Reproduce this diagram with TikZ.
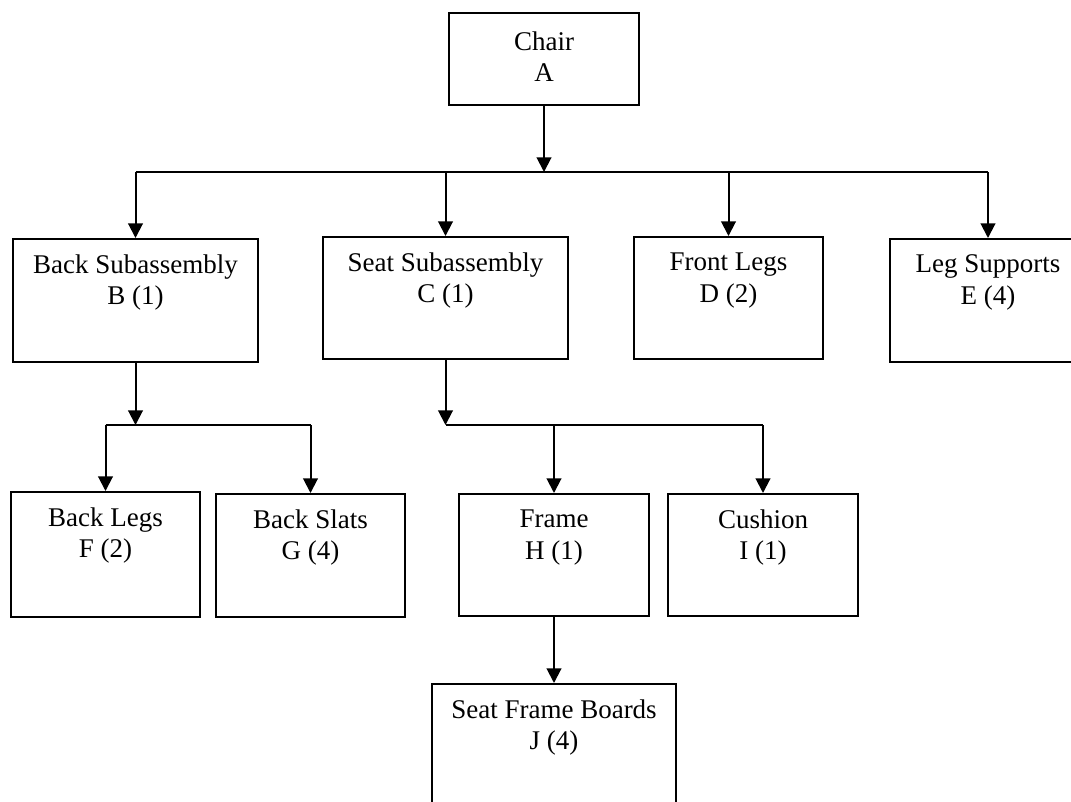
\documentclass[tikz,border=0pt]{standalone}
\usepackage{fontspec}
\setmainfont{Liberation Serif}
\usetikzlibrary{arrows.meta}
\begin{document}
\begin{tikzpicture}[x=0.75pt,y=-0.75pt,
  partbox/.style={draw, line width=1.5pt, anchor=north west, inner sep=0pt},
  partlabel/.style={align=center, inner sep=0pt,
    font=\fontsize{20.25}{23.5}\selectfont},
  link/.style={line width=1.5pt},
  feed/.style={line width=1.5pt, -{Triangle[width=11pt,length=11pt]}}]
\useasboundingbox (0,0) rectangle (1071,801);
\clip (0,0) rectangle (1071,801);

% part boxes (top-left corner, size)
\node[partbox, minimum width=142.5pt, minimum height=69pt]    (A) at (448,12)  {};
\node[partbox, minimum width=183.75pt, minimum height=92.25pt] (B) at (12,238)  {};
\node[partbox, minimum width=183.75pt, minimum height=91.5pt]  (C) at (322,236) {};
\node[partbox, minimum width=141.75pt, minimum height=91.5pt]  (D) at (633,236) {};
\node[partbox, minimum width=147pt,    minimum height=92.25pt] (E) at (889,238) {};
\node[partbox, minimum width=141.75pt, minimum height=93.75pt] (F) at (10,491)  {};
\node[partbox, minimum width=141.75pt, minimum height=92.25pt] (G) at (215,493) {};
\node[partbox, minimum width=142.5pt,  minimum height=91.5pt]  (H) at (458,493) {};
\node[partbox, minimum width=142.5pt,  minimum height=91.5pt]  (I) at (667,493) {};
\node[partbox, minimum width=183pt,    minimum height=92.25pt] (J) at (431,683) {};

% labels near the top of each box
\node[partlabel] (At) at ([yshift=-33.4pt]A.north) {Chair\\A};
\node[partlabel] (Bt) at ([yshift=-33.4pt]B.north) {Back Subassembly\\B (1)};
\node[partlabel] (Ct) at ([yshift=-33.4pt]C.north) {Seat Subassembly\\C (1)};
\node[partlabel] (Dt) at ([yshift=-33.4pt]D.north) {Front Legs\\D (2)};
\node[partlabel] (Et) at ([yshift=-33.4pt]E.north) {Leg Supports\\E (4)};
\node[partlabel] (Ft) at ([yshift=-33.4pt]F.north) {Back Legs\\F (2)};
\node[partlabel] (Gt) at ([yshift=-33.4pt]G.north) {Back Slats\\G (4)};
\node[partlabel] (Ht) at ([yshift=-33.4pt]H.north) {Frame\\H (1)};
\node[partlabel] (It) at ([yshift=-33.4pt]I.north) {Cushion\\I (1)};
\node[partlabel] (Jt) at ([yshift=-33.4pt]J.north) {Seat Frame Boards\\J (4)};

% distribution rails
\coordinate (rail1) at (0,172);
\coordinate (rail2) at (0,425);

% level 1
\draw[feed] (A.south) -- (A.south |- rail1);
\draw[link] (B.north |- rail1) -- (E.north |- rail1);
\draw[feed] (B.north |- rail1) -- (B.north);
\draw[feed] (C.north |- rail1) -- (C.north);
\draw[feed] (D.north |- rail1) -- (D.north);
\draw[feed] (E.north |- rail1) -- (E.north);

% back subassembly
\draw[feed] (B.south) -- (B.south |- rail2);
\draw[link] (F.north |- rail2) -- (G.north |- rail2);
\draw[feed] (F.north |- rail2) -- (F.north);
\draw[feed] (G.north |- rail2) -- (G.north);

% seat subassembly
\draw[feed] (C.south) -- (C.south |- rail2);
\draw[link] (C.south |- rail2) -- (I.north |- rail2);
\draw[feed] (H.north |- rail2) -- (H.north);
\draw[feed] (I.north |- rail2) -- (I.north);

% frame
\draw[feed] (H.south) -- (J.north);
\end{tikzpicture}
\end{document}
